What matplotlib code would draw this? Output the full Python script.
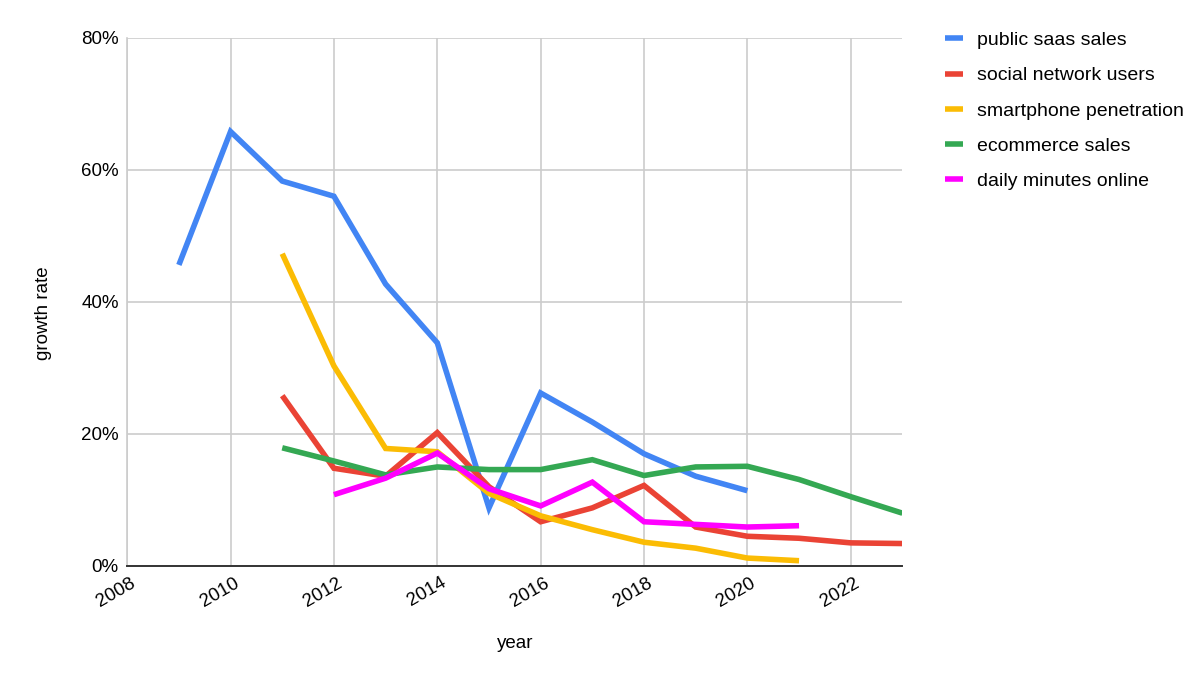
import numpy as np
import matplotlib.pyplot as plt
from matplotlib.ticker import FuncFormatter
import matplotlib.transforms as mtransforms

plt.rcParams['font.family'] = ['Liberation Sans', 'DejaVu Sans']

# growth rates in percent
saas_years = [2009, 2010, 2011, 2012, 2013, 2014, 2015, 2016, 2017, 2018, 2019, 2020]
saas = [45.6, 65.8, 58.3, 56.0, 42.7, 33.8, 8.8, 26.2, 21.8, 17.0, 13.6, 11.4]

social_years = [2011, 2012, 2013, 2014, 2015, 2016, 2017, 2018, 2019, 2020, 2021, 2022, 2023]
social = [25.8, 14.8, 13.6, 20.2, 12.0, 6.7, 8.8, 12.2, 5.9, 4.5, 4.2, 3.5, 3.4]

phone_years = [2011, 2012, 2013, 2014, 2015, 2016, 2017, 2018, 2019, 2020, 2021]
phone = [47.3, 30.3, 17.8, 17.3, 11.0, 7.6, 5.5, 3.6, 2.7, 1.2, 0.8]

ecom_years = [2011, 2012, 2013, 2014, 2015, 2016, 2017, 2018, 2019, 2020, 2021, 2022, 2023]
ecom = [17.9, 15.9, 13.8, 15.0, 14.6, 14.6, 16.1, 13.7, 15.0, 15.1, 13.1, 10.5, 8.0]

minutes_years = [2012, 2013, 2014, 2015, 2016, 2017, 2018, 2019, 2020, 2021]
minutes = [10.8, 13.3, 17.1, 11.7, 9.1, 12.7, 6.7, 6.3, 5.9, 6.1]

series = [
    ('public saas sales', saas_years, saas, '#4285F4'),
    ('social network users', social_years, social, '#EA4335'),
    ('smartphone penetration', phone_years, phone, '#FBBC04'),
    ('ecommerce sales', ecom_years, ecom, '#34A853'),
    ('daily minutes online', minutes_years, minutes, '#FF00FF'),
]

fig = plt.figure(figsize=(12, 6.75), dpi=100)
ax = fig.add_axes([0.106, 0.1615, 0.646, 0.7825])

for name, xs, ys, col in series:
    ax.plot(xs, ys, color=col, lw=4, label=name, solid_capstyle='butt',
            solid_joinstyle='miter')

ax.set_xlim(2008, 2023)
ax.set_ylim(0, 80)
ax.set_xticks(range(2008, 2023, 2))
ax.set_yticks([0, 20, 40, 60, 80])
ax.yaxis.set_major_formatter(FuncFormatter(lambda v, p: f'{v:.0f}%'))
ax.grid(True, color='#cccccc', lw=1.2)
ax.set_axisbelow(True)
for s in ['top', 'right']:
    ax.spines[s].set_visible(False)
ax.spines['left'].set_color('#cccccc')
ax.spines['left'].set_linewidth(1.2)
ax.spines['bottom'].set_color('#333333')
ax.spines['bottom'].set_linewidth(1.4)
ax.tick_params(length=0, labelsize=13.5, pad=6)
shift = mtransforms.ScaledTranslation(3 / 100, 0, fig.dpi_scale_trans)
for lab in ax.get_xticklabels():
    lab.set_rotation(30)
    lab.set_ha('right')
    lab.set_rotation_mode('anchor')
    lab.set_transform(lab.get_transform() + shift)

fig.text(0.036, 0.536, 'growth rate', rotation=90, ha='center', va='center', fontsize=13.5)
fig.text(0.429, 0.046, 'year', ha='center', va='center', fontsize=13.5)

fig.legend(loc='upper left', bbox_to_anchor=(0.773, 0.979), frameon=False,
           fontsize=14, handlelength=0.93, handletextpad=0.72, labelspacing=0.9)
for h in fig.legends[0].get_lines():
    h.set_linewidth(4)

fig.savefig('out.png', dpi=100)
